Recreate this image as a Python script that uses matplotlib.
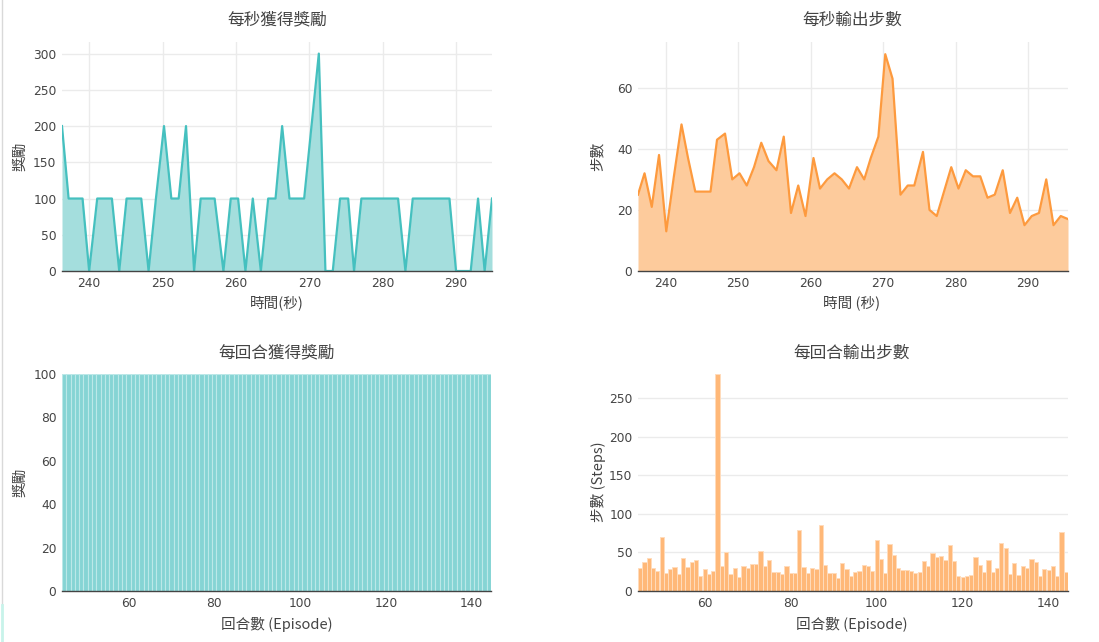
import numpy as np
import matplotlib
matplotlib.use('Agg')
from matplotlib import pyplot as plt
from matplotlib.lines import Line2D

# --- data ---
reward_time = [236.3, 237.2, 238.2, 239.1, 240.0, 241.1, 242.1, 243.1, 244.1, 245.1,
               246.1, 247.1, 248.1, 249.1, 250.2, 251.2, 252.2, 253.2, 254.3, 255.2,
               256.2, 257.1, 258.3, 259.3, 260.3, 261.3, 262.3, 263.4, 264.4, 265.4,
               266.3, 267.3, 268.3, 269.3, 270.3, 271.3, 272.2, 273.2, 274.2, 275.3,
               276.1, 277.1, 278.1, 279.1, 280.1, 281.1, 282.1, 283.1, 284.1, 285.1,
               286.1, 287.1, 288.1, 289.1, 290.0, 291.0, 292.0, 293.0, 293.9, 294.9]
reward_per_sec = [200, 100, 100, 100, 0, 100, 100, 100, 0, 100,
                  100, 100, 0, 100, 200, 100, 100, 200, 0, 100,
                  100, 100, 0, 100, 100, 0, 100, 0, 100, 100,
                  200, 100, 100, 100, 200, 300, 0, 0, 100, 100,
                  0, 100, 100, 100, 100, 100, 100, 0, 100, 100,
                  100, 100, 100, 100, 0, 0, 0, 100, 0, 100]

steps_time = [236.2, 237.1, 238.1, 239.1, 240.1, 241.15, 242.2, 243.1, 244.1, 245.2,
              246.2, 247.1, 248.2, 249.2, 250.2, 251.2, 252.2, 253.2, 254.2, 255.3,
              256.3, 257.3, 258.3, 259.3, 260.4, 261.3, 262.3, 263.3, 264.3, 265.3,
              266.4, 267.4, 268.3, 269.35, 270.3, 271.3, 272.4, 273.4, 274.3, 275.5,
              276.4, 277.4, 278.4, 279.4, 280.4, 281.4, 282.4, 283.4, 284.4, 285.4,
              286.5, 287.5, 288.5, 289.5, 290.5, 291.5, 292.5, 293.5, 294.5, 295.5]
steps_per_sec = [25, 32, 21, 38, 13, 31, 48, 37, 26, 26,
                 26, 43, 45, 30, 32, 28, 34, 42, 36, 33,
                 44, 19, 28, 18, 37, 27, 30, 32, 30, 27,
                 34, 30, 37, 44, 71, 63, 25, 28, 28, 39,
                 20, 18, 26, 34, 27, 33, 31, 31, 24, 25,
                 33, 19, 24, 15, 18, 19, 30, 15, 18, 17]

episodes = list(range(45, 145))
episode_reward = [100] * 100
episode_steps = [30, 38, 43, 30, 26, 70, 23, 28, 31, 22,
                 43, 31, 38, 40, 19, 28, 22, 26, 281, 32,
                 50, 22, 30, 18, 33, 30, 35, 35, 52, 32,
                 40, 25, 24, 22, 32, 23, 23, 79, 31, 23,
                 30, 29, 86, 34, 23, 23, 17, 36, 28, 19,
                 24, 26, 34, 32, 26, 66, 41, 23, 61, 47,
                 30, 27, 27, 26, 23, 24, 39, 33, 49, 44,
                 45, 40, 59, 39, 19, 18, 20, 21, 44, 34,
                 24, 40, 24, 30, 62, 56, 22, 36, 21, 32,
                 30, 42, 37, 19, 28, 27, 33, 20, 77, 25]

W, H = 1099, 642
CJK = ['Noto Sans CJK TC', 'DejaVu Sans']
TXT = '#444444'

plt.rcParams['font.family'] = 'DejaVu Sans'
fig = plt.figure(figsize=(W / 100, H / 100), dpi=100)


def make_axes(left, right, top, bottom):
    ax = fig.add_axes([left / W, 1 - bottom / H, (right - left) / W, (bottom - top) / H])
    for s in ['top', 'right', 'left']:
        ax.spines[s].set_visible(False)
    ax.spines['bottom'].set_color('#444444')
    ax.spines['bottom'].set_linewidth(1)
    ax.tick_params(length=0, labelsize=8.8, labelcolor=TXT, pad=4)
    ax.set_axisbelow(True)
    return ax


def label(x, y, s, size=10.5, rot=0):
    fig.text(x / W, 1 - y / H, s, ha='center', va='center', rotation=rot,
             fontsize=size, color=TXT, family=CJK)


# top-left: reward per second
ax1 = make_axes(62, 492, 42, 271)
ax1.fill_between(reward_time, reward_per_sec, 0, color='#a4dedd', lw=0)
ax1.plot(reward_time, reward_per_sec, color='#45c0bf', lw=1.6)
ax1.set_xlim(reward_time[0], reward_time[-1])
ax1.set_ylim(0, 316)
ax1.set_xticks(range(240, 291, 10))
ax1.set_yticks(range(0, 301, 50))
ax1.grid(True, color='#ebebeb', lw=1)

# top-right: steps per second
ax2 = make_axes(638, 1068, 42, 271)
ax2.fill_between(steps_time, steps_per_sec, 0, color='#fdcb9c', lw=0)
ax2.plot(steps_time, steps_per_sec, color='#fd9a3e', lw=1.6)
ax2.set_xlim(steps_time[0], steps_time[-1])
ax2.set_ylim(0, 75)
ax2.set_xticks(range(240, 291, 10))
ax2.set_yticks([0, 20, 40, 60])
ax2.grid(True, color='#ebebeb', lw=1)

# bottom-left: reward per episode
ax3 = make_axes(62, 491, 374, 591)
ax3.bar(episodes, episode_reward, width=1.0, color='#86d4d4',
        edgecolor='#bce8e8', linewidth=0.8)
ax3.set_xlim(44.5, 144.5)
ax3.set_ylim(0, 100)
ax3.set_xticks(range(60, 141, 20))
ax3.set_yticks(range(0, 101, 20))
ax3.grid(True, axis='y', color='#ebebeb', lw=1)

# bottom-right: steps per episode
ax4 = make_axes(638, 1068, 374, 591)
ax4.bar(episodes, episode_steps, width=1.0, color='#ffb878',
        edgecolor='#ffdcbc', linewidth=0.7)
ax4.set_xlim(44.5, 144.5)
ax4.set_ylim(0, 281)
ax4.set_xticks(range(60, 141, 20))
ax4.set_yticks(range(0, 251, 50))
ax4.grid(True, axis='y', color='#ebebeb', lw=1)

# titles and axis labels
label(277, 20, '每秒獲得獎勵', 12)
label(852, 20, '每秒輸出步數', 12)
label(277, 353, '每回合獲得獎勵', 12)
label(852, 353, '每回合輸出步數', 12)
label(277, 303, '時間(秒)')
label(852, 303, '時間 (秒)')
label(277, 624, '回合數 (Episode)')
label(852, 624, '回合數 (Episode)')
label(20, 156, '獎勵', rot=90)
label(598, 156, '步數', rot=90)
label(20, 482, '獎勵', rot=90)
label(598, 482, '步數 (Steps)', rot=90)

# thin page border on the left edge
fig.add_artist(Line2D([1.5 / W, 1.5 / W], [1, 1 - 605 / H], color='#d9d9d9', lw=1))
fig.add_artist(Line2D([1.5 / W, 1.5 / W], [1 - 605 / H, 0], color='#c8f3ea', lw=2))

fig.savefig('out.png', dpi=100)
